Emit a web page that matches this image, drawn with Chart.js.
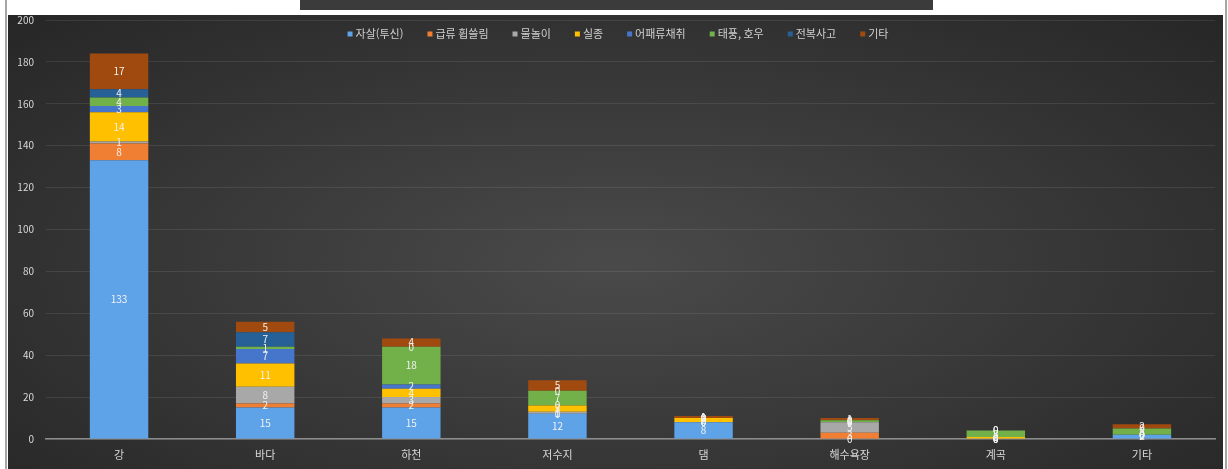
<!DOCTYPE html>
<html lang="ko">
<head>
<meta charset="utf-8">
<script src="https://cdn.jsdelivr.net/npm/chart.js@4/dist/chart.umd.min.js"></script>
<style>
  html, body { margin:0; padding:0; background:#fff; }
  #frame { position:absolute; left:5px; top:0; width:1218px; height:469px;
           border-left:2px solid #a6a6a6; border-right:2px solid #a6a6a6; }
  #titlebar { position:absolute; left:300px; top:0; width:633px; height:10px; background:#3b3b3b; }
  #box { position:absolute; left:8px; top:15px; width:1215px; height:454px; overflow:hidden;
         background: radial-gradient(ellipse 70% 80% at 50% 55%, #4a4a4a 0%, #383838 50%, #262626 100%); }
  #box canvas { display:block; margin-top:-13px; }
</style>
</head>
<body>
<div id="frame"></div>
<div id="titlebar"></div>
<div id="box"><canvas id="chart" width="1215" height="467"></canvas></div>
<script>
// 카테고리 / 시리즈
const categories = ["강", "바다", "하천", "저수지", "댐", "해수욕장", "계곡", "기타"];
const seriesNames = ["자살(투신)", "급류 휩쓸림", "물놀이", "실종", "어패류채취", "태풍, 호우", "전복사고", "기타"];
const seriesColors = ["#5ea3e8", "#f07f33", "#a8a8a8", "#ffc000", "#4676cc", "#72b04a", "#276096", "#a04a10"];

const suicide   = [133, 15, 15, 12, 8, 0, 0, 2];
const torrent   = [8, 2, 2, 0, 0, 3, 0, 0];
const swimming  = [1, 8, 3, 1, 0, 5, 0, 0];
const missing   = [14, 11, 4, 3, 2, 0, 1, 0];
const shellfish = [3, 7, 2, 0, 0, 0, 0, 0];
const typhoon   = [4, 1, 18, 7, 0, 1, 3, 3];
const capsize   = [4, 7, 0, 0, 0, 0, 0, 0];
const others    = [17, 5, 4, 5, 1, 1, 0, 2];

const yTicks = [0, 20, 40, 60, 80, 100, 120, 140, 160, 180, 200];

const seriesData = [suicide, torrent, swimming, missing, shellfish, typhoon, capsize, others];
const FONT = "'Noto Sans CJK KR', 'Noto Sans', sans-serif";

// 막대 안 값 표시
const valueLabels = {
  id: "valueLabels",
  afterDatasetsDraw(chart) {
    const ctx = chart.ctx;
    ctx.save();
    ctx.font = "10px " + FONT;
    ctx.fillStyle = "#f2f2f2";
    ctx.textAlign = "center";
    ctx.textBaseline = "middle";
    chart.data.datasets.forEach((ds, i) => {
      chart.getDatasetMeta(i).data.forEach((bar, j) => {
        const v = ds.data[j];
        if (v == null) return;
        ctx.fillText(String(v), bar.x, (bar.y + bar.base) / 2);
      });
    });
    ctx.restore();
  }
};

// 상단 범례 (차트 영역 위에 겹침)
const topLegend = {
  id: "topLegend",
  afterDraw(chart) {
    const ctx = chart.ctx;
    ctx.save();
    ctx.font = "11px " + FONT;
    ctx.textBaseline = "middle";
    const box = 5, gap = 3, itemGap = 24;
    const widths = chart.data.datasets.map(ds => box + gap + ctx.measureText(ds.label).width);
    const total = widths.reduce((a, b) => a + b, 0) + itemGap * (widths.length - 1);
    let x = 610 - total / 2;
    const y = 32;
    chart.data.datasets.forEach((ds, i) => {
      ctx.fillStyle = ds.backgroundColor;
      ctx.fillRect(x, y - box / 2, box, box);
      ctx.fillStyle = "#d0d0d0";
      ctx.fillText(ds.label, x + box + gap, y);
      x += widths[i] + itemGap;
    });
    ctx.restore();
  }
};

new Chart(document.getElementById("chart"), {
  type: "bar",
  data: {
    labels: categories,
    datasets: seriesNames.map((name, i) => ({
      label: name,
      data: seriesData[i],
      backgroundColor: seriesColors[i],
      borderWidth: 0,
      categoryPercentage: 1.0,
      barPercentage: 0.4
    }))
  },
  options: {
    responsive: false,
    animation: false,
    layout: { padding: { top: 5, right: 8, left: 0, bottom: 0 } },
    plugins: { legend: { display: false }, tooltip: { enabled: false } },
    scales: {
      x: {
        stacked: true,
        grid: { display: false, drawTicks: false },
        border: { color: "#8c8c8c", width: 1.5 },
        ticks: { color: "#d9d9d9", font: { family: FONT, size: 11 }, padding: 9 },
        afterFit: s => { s.height = 30; }
      },
      y: {
        stacked: true,
        min: 0, max: 200,
        afterBuildTicks: s => { s.ticks = yTicks.map(v => ({ value: v })); },
        grid: { color: "rgba(255,255,255,0.09)", drawTicks: false },
        border: { display: false },
        ticks: { color: "#d9d9d9", font: { family: FONT, size: 10 }, padding: 12 },
        afterFit: s => { s.width = 38; }
      }
    }
  },
  plugins: [valueLabels, topLegend]
});
</script>
</body>
</html>
